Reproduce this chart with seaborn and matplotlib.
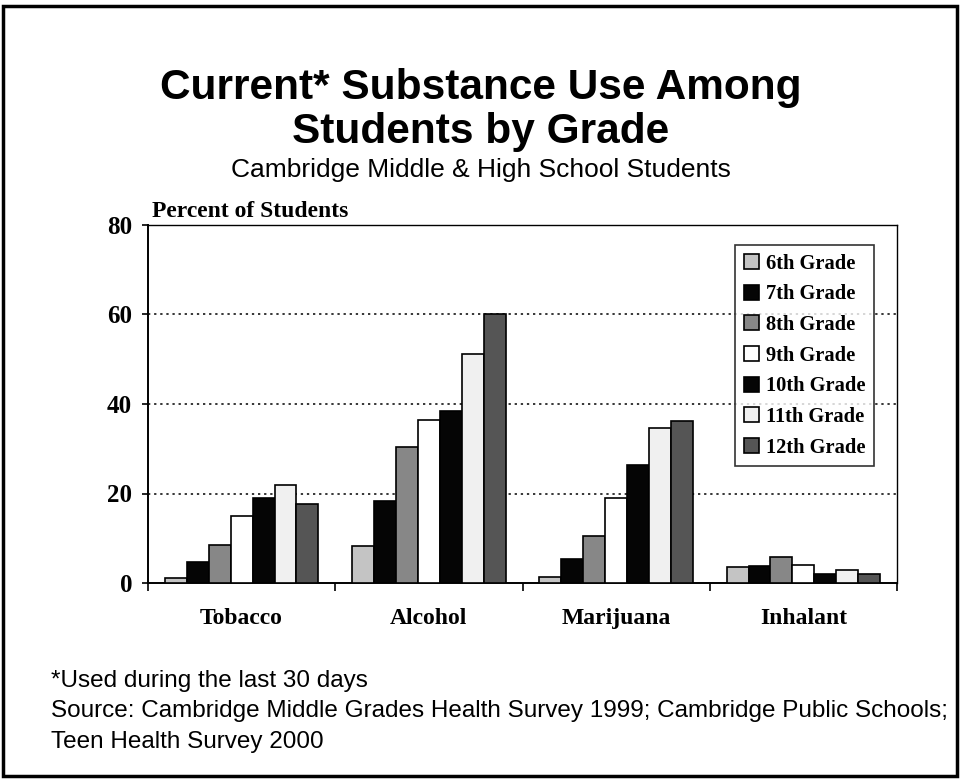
import matplotlib
matplotlib.use("Agg")
import matplotlib.pyplot as plt
from matplotlib.patches import Rectangle
import seaborn as sns
import pandas as pd

substances = ["Tobacco", "Alcohol", "Marijuana", "Inhalant"]
grades = ["6th Grade", "7th Grade", "8th Grade", "9th Grade",
          "10th Grade", "11th Grade", "12th Grade"]
tobacco = [1.2, 4.8, 8.6, 15.0, 19.1, 21.9, 17.7]
alcohol = [8.2, 18.3, 30.5, 36.5, 38.5, 51.1, 60.0]
marijuana = [1.3, 5.4, 10.4, 18.9, 26.4, 34.6, 36.2]
inhalant = [3.5, 3.8, 5.9, 4.0, 2.1, 2.9, 1.9]
yticks = [0, 20, 40, 60, 80]

grade_colors = ["#c4c4c4", "#050505", "#878787", "#ffffff",
                "#050505", "#f0f0f0", "#555555"]

rows = []
for sub, vals in zip(substances, [tobacco, alcohol, marijuana, inhalant]):
    for g, v in zip(grades, vals):
        rows.append({"Substance": sub, "Grade": g, "Percent": v})
df = pd.DataFrame(rows)

sns.set_style("white")
plt.rcParams["font.family"] = ["Liberation Serif", "DejaVu Serif"]
for key in ["text.color", "axes.labelcolor", "xtick.color", "ytick.color"]:
    plt.rcParams[key] = "black"

fig = plt.figure(figsize=(9.61, 7.82), dpi=100)
ax = fig.add_axes([148 / 961, 1 - 583 / 782, 749 / 961, 358 / 782])

sns.barplot(data=df, x="Substance", y="Percent", hue="Grade",
            order=substances, hue_order=grades,
            palette=grade_colors, width=0.82, dodge=True,
            edgecolor="black", linewidth=1.2, saturation=1,
            errorbar=None, ax=ax, zorder=3)

ax.set_xlim(-0.5, 3.5)
ax.set_ylim(0, 80)
ax.set_yticks(yticks)
ax.set_yticklabels([str(t) for t in yticks], fontsize=18, fontweight="bold")
ax.set_xticks(range(len(substances)))
ax.set_xticklabels(substances, fontsize=17, fontweight="bold")
ax.set_xticks([-0.5, 0.5, 1.5, 2.5, 3.5], minor=True)
ax.tick_params(axis="x", which="major", length=0, pad=18)
ax.tick_params(axis="x", which="minor", length=5.5, width=1.2,
               direction="out", color="black", bottom=True)
ax.tick_params(axis="y", which="major", length=4.5, width=1.2,
               direction="out", color="black", left=True, pad=7)
ax.set_xlabel("")
ax.set_ylabel("")

for y in [20, 40, 60]:
    ax.axhline(y, color="black", linestyle=(0, (1.5, 2.5)), linewidth=1.1,
               zorder=1)

for side in ["left", "bottom", "top", "right"]:
    ax.spines[side].set_visible(True)
    ax.spines[side].set_color("black")
ax.spines["left"].set_linewidth(1.4)
ax.spines["bottom"].set_linewidth(1.4)
ax.spines["top"].set_linewidth(1.0)
ax.spines["right"].set_linewidth(1.0)

ax.text(0.005, 1.008, "Percent of Students", transform=ax.transAxes,
        fontsize=17, fontweight="bold", ha="left", va="bottom")

leg = ax.legend(loc="upper right", bbox_to_anchor=(0.969, 0.944),
                borderaxespad=0, frameon=True, fancybox=False,
                handlelength=0.75, handleheight=0.75, handletextpad=0.3,
                labelspacing=0.52, borderpad=0.42,
                prop={"family": "Liberation Serif", "weight": "bold",
                      "size": 14.8})
leg.get_frame().set_edgecolor("black")
leg.get_frame().set_linewidth(1.2)

# Title block and notes
sans = ["Liberation Sans", "DejaVu Sans"]
fig.text(0.5, 1 - 88 / 782, "Current* Substance Use Among",
         ha="center", va="center", fontsize=30.5, fontweight="bold",
         family=sans)
fig.text(0.5, 1 - 132 / 782, "Students by Grade",
         ha="center", va="center", fontsize=30.5, fontweight="bold",
         family=sans)
fig.text(0.5, 1 - 170 / 782, "Cambridge Middle & High School Students",
         ha="center", va="center", fontsize=19, family=sans)

notes = ["*Used during the last 30 days",
         "Source: Cambridge Middle Grades Health Survey 1999; Cambridge Public Schools;",
         "Teen Health Survey 2000"]
for i, line in enumerate(notes):
    fig.text(51 / 961, 1 - (681 + 30.5 * i) / 782, line, ha="left",
             va="center", fontsize=17.5, family=sans)

fig.patches.append(Rectangle((3 / 961, 1 - 776 / 782), 954 / 961, 770 / 782,
                             transform=fig.transFigure, fill=False,
                             edgecolor="black", linewidth=2.5))

fig.savefig("out.png", dpi=100)
